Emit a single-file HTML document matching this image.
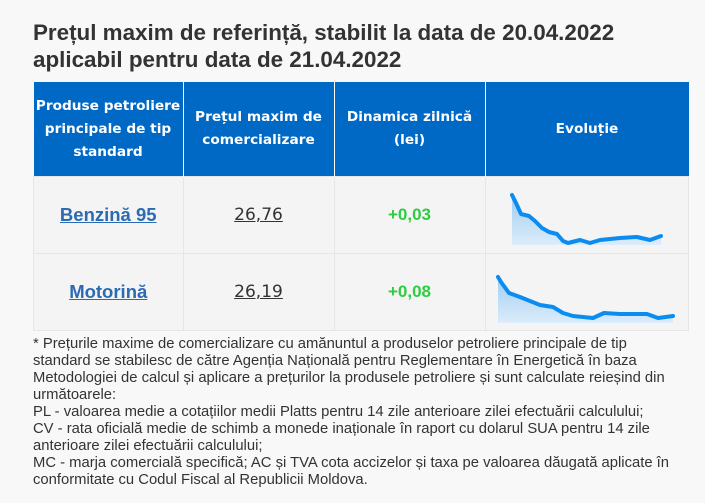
<!DOCTYPE html>
<html><head><meta charset="utf-8"><style>
body{margin:0;background:#f8f8f8;width:705px;height:503px;overflow:hidden;font-family:"Liberation Sans",sans-serif;color:#333}
h1{position:absolute;left:33px;top:19px;margin:0;font-size:22.4px;line-height:27px;font-weight:bold;color:#333}
table{position:absolute;left:33px;top:82px;border-collapse:collapse;width:656px}
th{background:#0069c6;color:#fff;font-family:"DejaVu Sans",sans-serif;font-size:13.7px;font-weight:bold;line-height:23px;height:94px;padding:0;border-right:1px solid #fff;text-align:center}
th:last-child{border-right:none}
td{background:#f4f4f4;border:1px solid #e6e6e6;height:76px;text-align:center;padding:0;position:relative}
a.p{color:#2a6bb3;font-weight:bold;font-size:18.5px}
.v{font-family:"DejaVu Sans",sans-serif;font-size:17px;color:#333;text-decoration:underline}
.g{color:#2ecc40;font-weight:bold;font-size:17px}
.note{position:absolute;left:33px;top:336px;width:655px;font-size:14.8px;line-height:17px;color:#333}
svg{position:absolute;left:0;top:0}
</style></head><body>
<h1>Prețul maxim de referință, stabilit la data de 20.04.2022<br>aplicabil pentru data de 21.04.2022</h1>
<table>
<tr><th style="width:149px">Produse petroliere<br>principale de tip<br>standard</th><th style="width:150px">Prețul maxim de<br>comercializare</th><th style="width:150px">Dinamica zilnică<br>(lei)</th><th>Evoluție</th></tr>
<tr><td><a class="p" href="#">Benzină 95</a></td><td><span class="v">26,76</span></td><td><span class="g">+0,03</span></td><td></td></tr>
<tr><td><a class="p" href="#">Motorină</a></td><td><span class="v">26,19</span></td><td><span class="g">+0,08</span></td><td></td></tr>
</table>
<svg width="705" height="503">
<defs><linearGradient id="gr" x1="0" y1="0" x2="0" y2="1"><stop offset="0" stop-color="#9fcdf3"/><stop offset="1" stop-color="#dcecfa"/></linearGradient></defs>
<path d="M512,195 L516,203 L521,214 L529,216 L535,221 L542,228 L549,232 L557,234 L563,241 L568,243 L580,240 L590,243 L600,240 L620,238 L637,237 L650,240 L661,236 L661,245 L512,245Z" fill="url(#gr)"/>
<polyline points="512,195 516,203 521,214 529,216 535,221 542,228 549,232 557,234 563,241 568,243 580,240 590,243 600,240 620,238 637,237 650,240 661,236" fill="none" stroke="#0a8cf0" stroke-width="4" stroke-linejoin="round" stroke-linecap="round"/>
<path d="M498,277 L501,282 L509,293 L520,297 L540,305 L553,307 L563,313 L573,316 L593,318 L604,313 L620,314 L647,314 L658,318 L673,316 L673,323 L498,323Z" fill="url(#gr)"/>
<polyline points="498,277 501,282 509,293 520,297 540,305 553,307 563,313 573,316 593,318 604,313 620,314 647,314 658,318 673,316" fill="none" stroke="#0a8cf0" stroke-width="4" stroke-linejoin="round" stroke-linecap="round"/>
</svg>
<div class="note">* Prețurile maxime de comercializare cu amănuntul a produselor petroliere principale de tip<br>standard se stabilesc de către Agenția Națională pentru Reglementare în Energetică în baza<br>Metodologiei de calcul și aplicare a prețurilor la produsele petroliere și sunt calculate reieșind din<br>următoarele:<br>PL - valoarea medie a cotațiilor medii Platts pentru 14 zile anterioare zilei efectuării calculului;<br>CV - rata oficială medie de schimb a monede inaționale în raport cu dolarul SUA pentru 14 zile<br>anterioare zilei efectuării calculului;<br>MC - marja comercială specifică; AC și TVA cota accizelor și taxa pe valoarea dăugată aplicate în<br>conformitate cu Codul Fiscal al Republicii Moldova.</div>
</body></html>
